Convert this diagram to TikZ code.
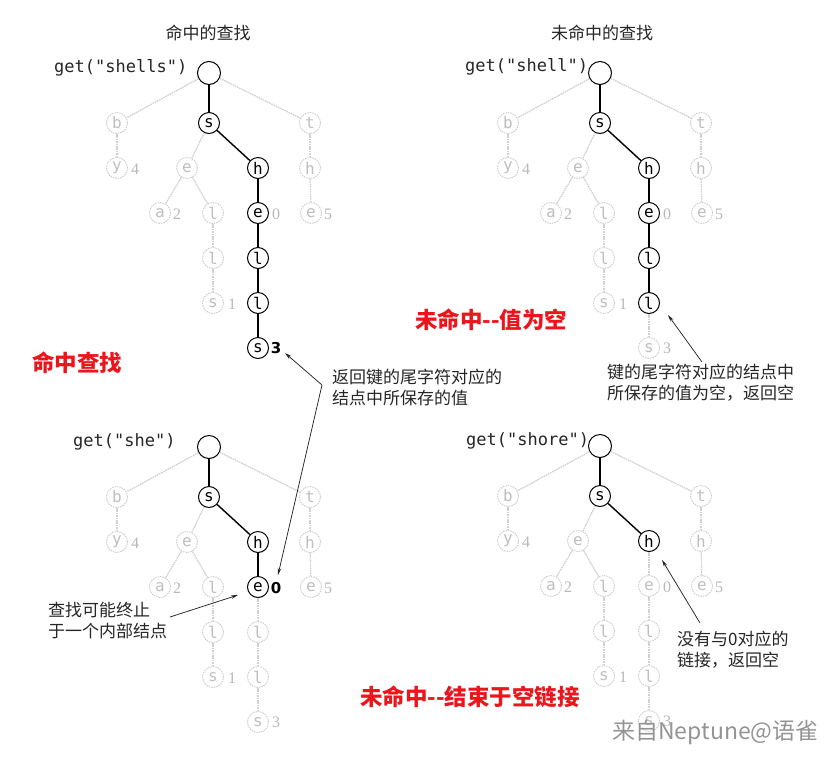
\documentclass[tikz,border=0pt]{standalone}
\usepackage{fontspec}
\setmainfont{DejaVu Sans}
\newfontfamily\cjk[Ligatures=TeXOff]{Noto Sans CJK SC}
\newfontfamily\mono[Ligatures=TeXOff]{DejaVu Sans Mono}
\newfontfamily\lbl{Liberation Serif}
\usetikzlibrary{arrows.meta}
\definecolor{redlab}{RGB}{235,22,28}

\tikzset{
 gy/.style={circle, draw=black!20, line width=0.9pt, dash pattern=on 1.6pt off 0.9pt, minimum size=21pt, inner sep=0pt, text=black!25, font=\mono\fontsize{16}{16}\selectfont},
 bk/.style={circle, draw=black, line width=1pt, fill=white, minimum size=21pt, inner sep=0pt, text=black, font=\mono\fontsize{16}{16}\selectfont},
 ge/.style={draw=black!18, line width=1.3pt, dash pattern=on 1.6pt off 0.8pt},
 be/.style={draw=black, line width=1.4pt},
 gv/.style={text=black!28, font=\lbl\fontsize{16}{16}\selectfont, inner sep=0pt},
 bv/.style={text=black, font=\bfseries\fontsize{15}{15}\selectfont, inner sep=0pt},
 st root/.style=bk, st s/.style=bk, st h/.style=bk,
 st b/.style=gy, st t/.style=gy, st y/.style=gy, st e1/.style=gy, st th/.style=gy,
 st a/.style=gy, st l1/.style=gy, st e2/.style=gy, st te/.style=gy, st l2/.style=gy,
 st l3/.style=gy, st s1/.style=gy, st l4/.style=gy, st s2/.style=gy,
 ed s/.style=be, ed h/.style=be,
 ed b/.style=ge, ed t/.style=ge, ed y/.style=ge, ed e1/.style=ge, ed th/.style=ge,
 ed a/.style=ge, ed l1/.style=ge, ed e2/.style=ge, ed te/.style=ge, ed l2/.style=ge,
 ed l3/.style=ge, ed s1/.style=ge, ed l4/.style=ge, ed s2/.style=ge,
 vl y/.style=gv, vl a/.style=gv, vl e2/.style=gv, vl te/.style=gv, vl s1/.style=gv, vl s2/.style=gv,
 getf/.style={font=\mono\fontsize{17}{17}\selectfont, text=black!85, inner sep=0pt, anchor=west},
 ttl/.style={font=\cjk\fontsize{17}{17}\selectfont, text=black!85, inner sep=0pt},
 redl/.style={font=\cjk\bfseries\fontsize{22.5}{22.5}\selectfont, text=redlab, inner sep=0pt, anchor=west},
 ann/.style={font=\cjk\fontsize{17}{21}\selectfont, text=black!85, inner sep=0pt, anchor=west, align=left},
 arr/.style={-{Stealth[length=7pt,width=3.6pt]}, line width=0.75pt, draw=black!85},
}

\newcommand\mytrie[1]{%
 \node[st root, minimum size=23pt] (#1root) at (209,73) {};
 \node[st s] (#1s) at (209,123) {s};
 \node[st b] (#1b) at (117,123) {b};
 \node[st t] (#1t) at (310,123) {t};
 \node[st y] (#1y) at (117,168) {y};
 \node[st e1] (#1e1) at (187,168) {e};
 \node[st h] (#1h) at (258,168) {h};
 \node[st th] (#1th) at (310,168) {h};
 \node[st a] (#1a) at (160,213) {a};
 \node[st l1] (#1l1) at (213,213) {l};
 \node[st e2] (#1e2) at (258,213) {e};
 \node[st te] (#1te) at (311,213) {e};
 \node[st l2] (#1l2) at (213,258) {l};
 \node[st l3] (#1l3) at (258,258) {l};
 \node[st s1] (#1s1) at (213,303) {s};
 \node[st l4] (#1l4) at (258,303) {l};
 \node[st s2] (#1s2) at (258,348) {s};
 \path[ed s] (#1root) -- (#1s);
 \path[ed b] (#1root) -- (#1b);
 \path[ed t] (#1root) -- (#1t);
 \path[ed y] (#1b) -- (#1y);
 \path[ed e1] (#1s) -- (#1e1);
 \path[ed h] (#1s) -- (#1h);
 \path[ed th] (#1t) -- (#1th);
 \path[ed a] (#1e1) -- (#1a);
 \path[ed l1] (#1e1) -- (#1l1);
 \path[ed e2] (#1h) -- (#1e2);
 \path[ed te] (#1th) -- (#1te);
 \path[ed l2] (#1l1) -- (#1l2);
 \path[ed l3] (#1e2) -- (#1l3);
 \path[ed s1] (#1l2) -- (#1s1);
 \path[ed l4] (#1l3) -- (#1l4);
 \path[ed s2] (#1l4) -- (#1s2);
 \node[vl y] (#1vy) at (135,169) {4};
 \node[vl a] (#1va) at (177,214) {2};
 \node[vl e2] (#1ve2) at (276,214) {0};
 \node[vl te] (#1vte) at (328,214) {5};
 \node[vl s1] (#1vs1) at (232,304) {1};
 \node[vl s2] (#1vs2) at (276,348) {3};
}

\begin{document}
\begin{tikzpicture}[x=1pt,y=-1pt]
\useasboundingbox[fill=white] (0,0) rectangle (830,756);

% top-left: hit
\begin{scope}[st e2/.style=bk, st l3/.style=bk, st l4/.style=bk, st s2/.style=bk,
  ed e2/.style=be, ed l3/.style=be, ed l4/.style=be, ed s2/.style=be, vl s2/.style=bv]
 \mytrie{A}
\end{scope}
% top-right: miss, null value
\begin{scope}[shift={(391,0)}, st e2/.style=bk, st l3/.style=bk, st l4/.style=bk,
  ed e2/.style=be, ed l3/.style=be, ed l4/.style=be]
 \mytrie{B}
\end{scope}
% bottom-left: hit at internal node
\begin{scope}[shift={(0,374)}, st e2/.style=bk, ed e2/.style=be, vl e2/.style=bv]
 \mytrie{C}
\end{scope}
% bottom-right: miss, null link
\begin{scope}[shift={(391,373)}]
 \mytrie{D}
\end{scope}

% titles
\node[ttl] (tA) at (208,33) {命中的查找};
\node[ttl] (tB) at (602,33) {未命中的查找};

\node[getf] (gA) at (54,68) {get("shells")};
\node[getf] (gB) at (465,67) {get("shell")};
\node[getf] (gC) at (73,442) {get("she")};
\node[getf] (gD) at (466,441) {get("shore")};

% red labels
\node[redl] (rA) at (32,363) {命中查找};
\node[redl] (rB) at (415,320) {未命中--值为空};
\node[redl] (rC) at (360,697) {未命中--结束于空链接};

% annotations
\node[ann] (nA) at (332,387) {返回键的尾字符对应的\\结点中所保存的值};
\node[ann] (nC) at (48,621) {查找可能终止\\于一个内部结点};
\node[ann] (nB) at (607,383) {键的尾字符对应的结点中\\所保存的值为空，返回空};
\node[ann] (nD) at (677,650) {没有与0对应的\\链接，返回空};

\coordinate (vA) at (322,385);
\coordinate (vC) at (170,617);
\coordinate (vB) at (702,362);
\coordinate (vD) at (700,623);
\coordinate (pA) at (285,353);
\coordinate (pA2) at (278,575);
\draw[arr] (vA) -- (pA);
\draw[arr] (vA) -- (pA2);
\draw[arr] (vC) -- (238,595);
\draw[arr] (vB) -- (668,315);
\draw[arr] (vD) -- (662,560);

\node[anchor=west, font=\cjk\fontsize{23}{23}\selectfont, text=black!42, inner sep=0pt] (wm) at (612,732) {来自Neptune@语雀};
\end{tikzpicture}
\end{document}
